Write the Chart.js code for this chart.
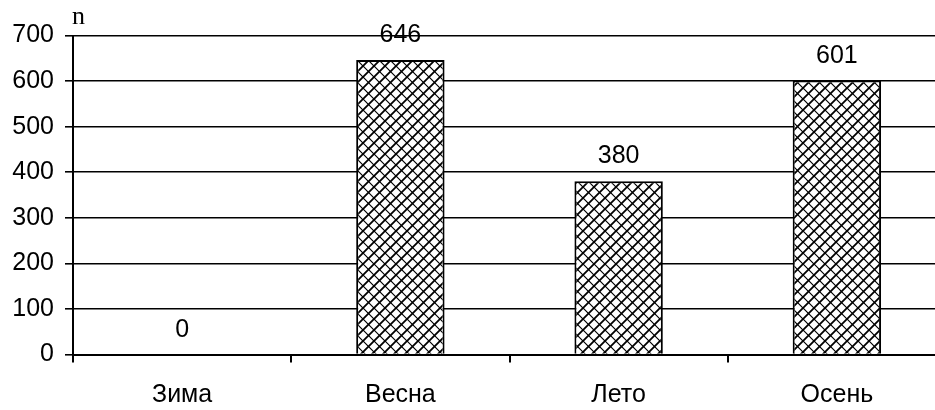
<!DOCTYPE html>
<html>
<head>
<meta charset="utf-8">
<script src="https://cdn.jsdelivr.net/npm/chart.js@4/dist/chart.umd.min.js"></script>
<style>
  html, body { margin: 0; padding: 0; background: #fff; overflow: hidden; }
  canvas { display: block; }
</style>
</head>
<body>
<canvas id="seasonChart" width="950" height="410"></canvas>
<script>
// data
var seasons = ['Зима', 'Весна', 'Лето', 'Осень'];
var counts = [0, 646, 380, 601];
var axisUnit = 'n';

function makeHatch() {
    var tile = document.createElement('canvas');
    tile.width = 11;
    tile.height = 11;
    var c = tile.getContext('2d');
    c.fillStyle = '#fff';
    c.fillRect(0, 0, 11, 11);
    c.strokeStyle = '#000';
    c.lineWidth = 1.8;
    c.beginPath();
    c.moveTo(-1, 12); c.lineTo(12, -1);
    c.moveTo(-6, 6); c.lineTo(6, -6);
    c.moveTo(5, 17); c.lineTo(17, 5);
    c.stroke();
    c.lineWidth = 1.2;
    c.beginPath();
    c.moveTo(-1, -1); c.lineTo(12, 12);
    c.moveTo(-6, 5); c.lineTo(6, 17);
    c.moveTo(5, -6); c.lineTo(17, 6);
    c.stroke();
    return document.getElementById('seasonChart').getContext('2d').createPattern(tile, 'repeat');
}

var valueLabels = {
    id: 'valueLabels',
    afterDatasetsDraw: function(chart) {
        var ctx = chart.ctx;
        var meta = chart.getDatasetMeta(0);
        ctx.save();
        ctx.font = '25px "Liberation Sans", Arial, sans-serif';
        ctx.fillStyle = '#000';
        ctx.textAlign = 'center';
        ctx.textBaseline = 'alphabetic';
        meta.data.forEach(function(bar, i) {
            ctx.fillText(String(counts[i]), bar.x, bar.y - 18);
        });
        // unit label over the y axis
        ctx.font = '26px "Liberation Serif", "Times New Roman", serif';
        ctx.textAlign = 'left';
        ctx.fillText(axisUnit, chart.chartArea.left - 1, 24);
        ctx.restore();
    }
};

var ctx = document.getElementById('seasonChart').getContext('2d');
var chart = new Chart(ctx, {
    type: 'bar',
    data: {
        labels: seasons,
        datasets: [{
            data: counts,
            backgroundColor: makeHatch(),
            borderColor: '#000',
            borderWidth: 2,
            barPercentage: 0.405,
            categoryPercentage: 1
        }]
    },
    options: {
        responsive: false,
        animation: false,
        devicePixelRatio: 1,
        layout: {
            padding: { top: 35.5, right: 4, left: 0, bottom: 0 }
        },
        plugins: {
            legend: { display: false },
            tooltip: { enabled: false }
        },
        scales: {
            x: {
                grid: {
                    offset: true,
                    drawOnChartArea: false,
                    drawTicks: true,
                    tickLength: 8,
                    color: '#000',
                    lineWidth: 2
                },
                border: { display: true, color: '#000', width: 2 },
                ticks: {
                    color: '#000',
                    padding: 18,
                    font: { family: '"Liberation Sans", Arial, sans-serif', size: 25 }
                },
                afterFit: function(scale) { scale.height = 55.5; }
            },
            y: {
                min: 0,
                max: 700,
                ticks: {
                    stepSize: 100,
                    color: '#000',
                    padding: 11,
                    font: { family: '"Liberation Sans", Arial, sans-serif', size: 25 }
                },
                grid: {
                    color: '#000',
                    lineWidth: 1.6,
                    tickLength: 8,
                    drawTicks: true
                },
                border: { display: true, color: '#000', width: 2 },
                afterFit: function(scale) { scale.width = 73; }
            }
        }
    },
    plugins: [valueLabels]
});
</script>
</body>
</html>
